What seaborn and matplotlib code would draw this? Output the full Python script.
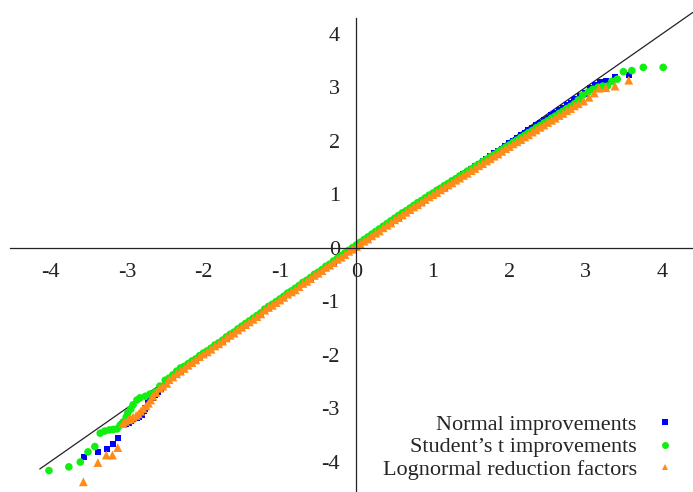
import numpy as np
import pandas as pd
import seaborn as sns
import matplotlib
matplotlib.use('Agg')
import matplotlib.pyplot as plt
from matplotlib.lines import Line2D

# theoretical quantiles for the dense middle of the QQ plot
bulk_x = [-2.45, -2.40, -2.35, -2.30, -2.25, -2.20, -2.15, -2.10, -2.05, -2.00,
          -1.95, -1.90, -1.85, -1.80, -1.75, -1.70, -1.65, -1.60, -1.55, -1.50,
          -1.45, -1.40, -1.35, -1.30, -1.25, -1.20, -1.15, -1.10, -1.05, -1.00,
          -0.95, -0.90, -0.85, -0.80, -0.75, -0.70, -0.65, -0.60, -0.55, -0.50,
          -0.45, -0.40, -0.35, -0.30, -0.25, -0.20, -0.15, -0.10, -0.05, 0.00,
          0.05, 0.10, 0.15, 0.20, 0.25, 0.30, 0.35, 0.40, 0.45, 0.50,
          0.55, 0.60, 0.65, 0.70, 0.75, 0.80, 0.85, 0.90, 0.95, 1.00,
          1.05, 1.10, 1.15, 1.20, 1.25, 1.30, 1.35, 1.40, 1.45, 1.50,
          1.55, 1.60, 1.65, 1.70, 1.75, 1.80, 1.85, 1.90, 1.95, 2.00,
          2.05, 2.10, 2.15, 2.20, 2.25, 2.30, 2.35, 2.40, 2.45, 2.50,
          2.55, 2.60, 2.65, 2.70, 2.75, 2.80, 2.85]

normal_bulk_y = [-2.48, -2.43, -2.37, -2.32, -2.27, -2.21, -2.16, -2.11, -2.05, -2.00,
                 -1.96, -1.91, -1.85, -1.81, -1.76, -1.70, -1.65, -1.61, -1.55, -1.50,
                 -1.45, -1.40, -1.35, -1.30, -1.25, -1.18, -1.13, -1.09, -1.04, -0.99,
                 -0.94, -0.88, -0.84, -0.79, -0.74, -0.68, -0.64, -0.59, -0.53, -0.49,
                 -0.44, -0.38, -0.34, -0.29, -0.23, -0.19, -0.14, -0.08, -0.03, 0.02,
                 0.07, 0.12, 0.17, 0.22, 0.27, 0.32, 0.37, 0.42, 0.47, 0.52,
                 0.57, 0.62, 0.67, 0.72, 0.77, 0.81, 0.86, 0.91, 0.96, 1.00,
                 1.05, 1.10, 1.14, 1.19, 1.24, 1.28, 1.33, 1.38, 1.42, 1.47,
                 1.52, 1.57, 1.61, 1.66, 1.71, 1.76, 1.80, 1.85, 1.90, 1.95,
                 2.00, 2.05, 2.10, 2.15, 2.19, 2.24, 2.29, 2.33, 2.38, 2.43,
                 2.48, 2.52, 2.57, 2.61, 2.66, 2.71, 2.76]

student_bulk_y = [-2.44, -2.38, -2.31, -2.25, -2.22, -2.17, -2.12, -2.08, -2.02, -1.97,
                  -1.93, -1.88, -1.82, -1.78, -1.73, -1.67, -1.62, -1.58, -1.52, -1.47,
                  -1.42, -1.37, -1.32, -1.27, -1.22, -1.15, -1.10, -1.06, -1.01, -0.96,
                  -0.91, -0.85, -0.81, -0.76, -0.71, -0.65, -0.61, -0.56, -0.50, -0.46,
                  -0.41, -0.35, -0.31, -0.25, -0.20, -0.15, -0.10, -0.05, 0.00, 0.05,
                  0.10, 0.15, 0.20, 0.25, 0.30, 0.35, 0.40, 0.45, 0.50, 0.55,
                  0.60, 0.65, 0.69, 0.74, 0.79, 0.84, 0.88, 0.93, 0.98, 1.02,
                  1.07, 1.11, 1.16, 1.20, 1.25, 1.29, 1.34, 1.38, 1.43, 1.47,
                  1.52, 1.56, 1.61, 1.65, 1.70, 1.74, 1.79, 1.83, 1.88, 1.92,
                  1.97, 2.01, 2.06, 2.10, 2.15, 2.19, 2.24, 2.28, 2.33, 2.37,
                  2.42, 2.46, 2.51, 2.55, 2.60, 2.64, 2.69]

lognormal_bulk_y = [-2.47, -2.42, -2.36, -2.31, -2.26, -2.20, -2.15, -2.10, -2.04, -1.99,
                    -1.95, -1.90, -1.84, -1.80, -1.75, -1.69, -1.64, -1.60, -1.54, -1.49,
                    -1.44, -1.39, -1.34, -1.29, -1.24, -1.17, -1.12, -1.08, -1.03, -0.98,
                    -0.93, -0.87, -0.83, -0.79, -0.73, -0.67, -0.63, -0.58, -0.52, -0.48,
                    -0.43, -0.37, -0.33, -0.28, -0.22, -0.18, -0.13, -0.07, -0.03, 0.02,
                    0.07, 0.12, 0.16, 0.22, 0.27, 0.31, 0.37, 0.42, 0.46, 0.52,
                    0.56, 0.61, 0.66, 0.71, 0.76, 0.80, 0.85, 0.90, 0.95, 0.99,
                    1.03, 1.08, 1.12, 1.17, 1.21, 1.26, 1.30, 1.35, 1.39, 1.44,
                    1.48, 1.53, 1.57, 1.62, 1.66, 1.71, 1.75, 1.80, 1.85, 1.89,
                    1.94, 1.98, 2.02, 2.07, 2.11, 2.16, 2.20, 2.25, 2.29, 2.34,
                    2.38, 2.42, 2.47, 2.51, 2.56, 2.60, 2.65]

# tails
normal_low_x = [-3.56, -3.38, -3.26, -3.18, -3.12, -3.06, -3.02, -2.98, -2.95, -2.92, -2.87,
                -2.84, -2.81, -2.78, -2.76, -2.73, -2.70, -2.66, -2.63, -2.59, -2.56, -2.53]
normal_low_y = [-3.92, -3.82, -3.77, -3.67, -3.56, -3.30, -3.29, -3.27, -3.24, -3.21, -3.19,
                -3.16, -3.12, -3.06, -3.01, -2.91, -2.86, -2.81, -2.76, -2.70, -2.65, -2.59]
normal_high_x = [2.86, 2.92, 2.99, 3.05, 3.12, 3.18, 3.26, 3.38, 3.56]
normal_high_y = [2.78, 2.84, 2.88, 2.98, 3.03, 3.10, 3.12, 3.19, 3.23]

student_low_x = [-4.02, -3.76, -3.61, -3.51, -3.42, -3.35, -3.29, -3.23, -3.18, -3.13, -3.09, -3.05,
                 -3.01, -2.99, -2.95, -2.92, -2.87, -2.83, -2.76, -2.70, -2.63, -2.57, -2.50]
student_low_y = [-4.17, -4.10, -4.01, -3.82, -3.72, -3.47, -3.43, -3.41, -3.40, -3.39, -3.32, -3.26,
                 -3.17, -3.09, -3.02, -2.94, -2.85, -2.81, -2.78, -2.74, -2.70, -2.59, -2.48]
student_high_x = [2.90, 2.96, 3.03, 3.09, 3.16, 3.22, 3.28, 3.34, 3.41, 3.49, 3.60, 3.75, 4.01]
student_high_y = [2.76, 2.85, 2.91, 2.96, 3.00, 3.02, 3.02, 3.11, 3.15, 3.29, 3.31, 3.37, 3.37]

lognormal_low_x = [-3.57, -3.38, -3.27, -3.19, -3.12, -3.05, -3.02, -2.98, -2.95, -2.92, -2.88,
                   -2.85, -2.82, -2.79, -2.75, -2.72, -2.69, -2.66, -2.62, -2.57, -2.53, -2.48]
lognormal_low_y = [-4.38, -4.02, -3.88, -3.88, -3.74, -3.29, -3.25, -3.22, -3.20, -3.17, -3.14,
                   -3.11, -3.06, -3.01, -2.96, -2.91, -2.85, -2.78, -2.71, -2.63, -2.59, -2.54]
lognormal_high_x = [2.90, 2.97, 3.04, 3.11, 3.17, 3.26, 3.38, 3.56]
lognormal_high_y = [2.69, 2.74, 2.81, 2.89, 2.98, 2.99, 3.02, 3.13]

labels = ['Normal improvements', 'Student\u2019s t improvements', 'Lognormal reduction factors']
ref_line = [-4.14, 4.40]
ticks = [-4, -3, -2, -1, 0, 1, 2, 3, 4]

colors = {labels[0]: '#0000ff', labels[1]: '#11ee11', labels[2]: '#ff8c1a'}
markers = {labels[0]: 's', labels[1]: 'o', labels[2]: '^'}
sizes = {labels[0]: 20, labels[1]: 30, labels[2]: 40}

frames = []
for lab, xs, ys in [
    (labels[0], normal_low_x + bulk_x + normal_high_x, normal_low_y + normal_bulk_y + normal_high_y),
    (labels[1], student_low_x + bulk_x + student_high_x, student_low_y + student_bulk_y + student_high_y),
    (labels[2], lognormal_low_x + bulk_x + lognormal_high_x, lognormal_low_y + lognormal_bulk_y + lognormal_high_y),
]:
    frames.append(pd.DataFrame({'x': xs, 'y': ys, 'series': lab}))
df = pd.concat(frames, ignore_index=True)

sns.set_style('white')
plt.rcParams['font.family'] = ['Liberation Serif', 'DejaVu Serif']
plt.rcParams['axes.unicode_minus'] = False

fig = plt.figure(figsize=(6.93, 4.92), dpi=100)
ax = fig.add_axes([0, 0, 1, 1])
ax.set_facecolor('white')

ax.plot(ref_line, ref_line, color='#222222', lw=0.9, zorder=1)
sns.scatterplot(data=df, x='x', y='y', hue='series', style='series', size='series',
                palette=colors, markers=markers, sizes=sizes, linewidth=0,
                legend=False, ax=ax, zorder=2)

ax.set_xlim(-4.66, 4.40)
ax.set_ylim(-4.57, 4.63)
for side in ['top', 'right']:
    ax.spines[side].set_visible(False)
ax.spines['left'].set_position(('data', 0))
ax.spines['bottom'].set_position(('data', 0))
ax.spines['left'].set_bounds(-4.57, 4.30)
ax.spines['bottom'].set_bounds(-4.53, 4.40)
for side in ['left', 'bottom']:
    ax.spines[side].set_color('#222222')
    ax.spines[side].set_linewidth(0.9)

ax.set_xticks(ticks)
ax.set_xticklabels([str(t) for t in ticks])
ax.set_yticks(ticks)
ax.set_yticklabels([str(t) for t in ticks])
ax.tick_params(axis='both', direction='out', length=5, width=0.9, color='#222222',
               labelsize=16, labelcolor='#222222')
ax.tick_params(axis='x', pad=6)
ax.tick_params(axis='y', pad=7)
ax.set_xlabel('')
ax.set_ylabel('')

handles = [Line2D([], [], ls='none', marker=markers[l], color=colors[l], markeredgewidth=0,
                  markersize={'s': 4, 'o': 5, '^': 5}[markers[l]]) for l in labels]
ax.legend(handles, labels, loc='lower right', bbox_to_anchor=(0.975, 0.024),
          frameon=False, markerfirst=False, handlelength=1.0, handletextpad=0.75,
          labelspacing=0.1, borderpad=0, borderaxespad=0, fontsize=16)

fig.savefig('out.png', dpi=100)
